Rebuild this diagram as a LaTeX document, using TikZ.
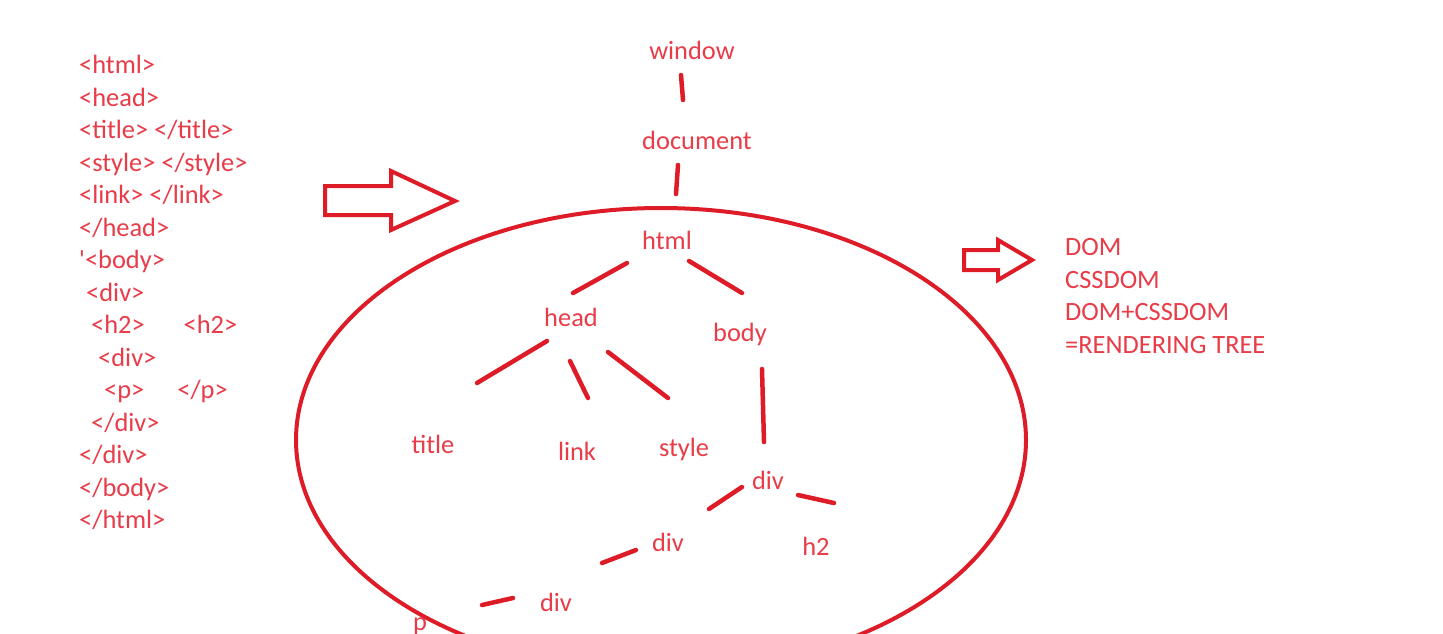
\documentclass[tikz,border=0pt]{standalone}
\usepackage{fontspec}
\setmainfont{Carlito}
\definecolor{txtred}{RGB}{232,60,72}
\definecolor{penred}{RGB}{222,28,40}

\begin{document}
\begin{tikzpicture}[x=1pt,y=-1pt,
  lbl/.style={text=txtred,inner sep=0pt,anchor=base,font=\fontsize{26.4}{31}\selectfont,text height=18.5pt,text depth=5.3pt},
  code/.style={lbl,anchor=base west},
  edge/.style={draw=penred,line width=4.5pt,line cap=round},
  pen/.style={draw=penred,line width=4pt,line join=miter}]
\clip (0,0) rectangle (1443,633);
\fill[white] (0,0) rectangle (1443,633);

% html source on the left
\node[code] (c1)  at (79,73.5)  {<html>};
\node[code] (c2)  at (79,106)   {<head>};
\node[code] (c3)  at (79,138.5) {<title> </title>};
\node[code] (c4)  at (79,171)   {<style> </style>};
\node[code] (c5)  at (79,203.5) {<link> </link>};
\node[code] (c6)  at (79,236)   {</head>};
\node[code] (c7)  at (79,268.5) {\textquotesingle<body>};
\node[code] (c8)  at (86,301)   {<div>};
\node[code] (c9)  at (91,333.5) {<h2>\hspace{39pt}<h2>};
\node[code] (c10) at (98,366)   {<div>};
\node[code] (c11) at (104,398.5){<p>\hspace{33pt}</p>};
\node[code] (c12) at (91,431)   {</div>};
\node[code] (c13) at (79,463.5) {</div>};
\node[code] (c14) at (79,496)   {</body>};
\node[code] (c15) at (79,528.5) {</html>};

% block arrows
\draw[pen] (325,186) -- (391,186) -- (391,171) -- (455,201) -- (391,230) -- (391,215) -- (325,215) -- cycle;
\draw[pen] (964,250) -- (998,250) -- (998,240) -- (1032,260) -- (998,280) -- (998,270) -- (964,270) -- cycle;

% the tree
\draw[pen] (661,440) ellipse [x radius=365pt, y radius=232pt];
\node[lbl] (window)   at (692,59)  {window};
\node[lbl] (document) at (697,149) {document};
\node[lbl] (html)     at (667,249) {html};
\node[lbl] (head)     at (571,326) {head};
\node[lbl] (body)     at (740,341) {body};
\node[lbl] (title)    at (433,453) {title};
\node[lbl] (link)     at (577,460) {link};
\node[lbl] (style)    at (684,456) {style};
\node[lbl] (div1)     at (768,489) {div};
\node[lbl] (h2)       at (816,555) {h2};
\node[lbl] (div2)     at (668,551) {div};
\node[lbl] (div3)     at (556,611) {div};
\node[lbl] (p)        at (420,630) {p};

\draw[edge] ([shift={(-11,22.6)}]window.center) -- ([shift={(-14,-42.4)}]document.center);
\draw[edge] ([shift={(-19,22.6)}]document.center) -- ([shift={(9,-48.4)}]html.center);
\draw[edge] ([shift={(-40,20.6)}]html.center) -- ([shift={(2,-26.4)}]head.center);
\draw[edge] ([shift={(22,18.6)}]html.center) -- ([shift={(2,-41.4)}]body.center);
\draw[edge] ([shift={(-24,21.6)}]head.center) -- ([shift={(44,-63.4)}]title.center);
\draw[edge] ([shift={(-1,41.6)}]head.center) -- ([shift={(11,-55.4)}]link.center);
\draw[edge] ([shift={(37,32.6)}]head.center) -- ([shift={(-16,-51.4)}]style.center);
\draw[edge] ([shift={(22,34.6)}]body.center) -- ([shift={(-4,-40.4)}]div1.center);
\draw[edge] ([shift={(-26,4.6)}]div1.center) -- ([shift={(41,-35.4)}]div2.center);
\draw[edge] ([shift={(30,12.6)}]div1.center) -- ([shift={(18,-45.4)}]h2.center);
\draw[edge] ([shift={(-32,5.6)}]div2.center) -- ([shift={(46,-41.4)}]div3.center);
\draw[edge] ([shift={(-43,-6.4)}]div3.center) -- ([shift={(62,-18.4)}]p.center);

% what comes out
\node[code] (dom)    at (1065,255) {DOM};
\node[code] (cssdom) at (1065,288) {CSSDOM};
\node[code] (both)   at (1065,320) {DOM+CSSDOM};
\node[code] (rtree)  at (1065,353) {=RENDERING TREE};
\end{tikzpicture}
\end{document}
